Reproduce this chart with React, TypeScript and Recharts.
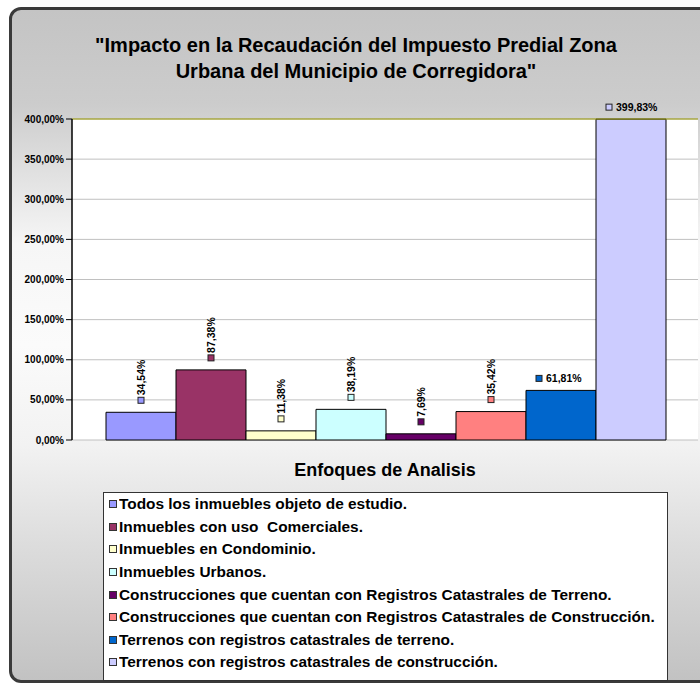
import React from "react";
import {
  BarChart,
  Bar,
  XAxis,
  YAxis,
  CartesianGrid,
  ReferenceLine,
  LabelList,
} from "recharts";

const FONT = '"Liberation Sans", Arial, sans-serif';

const titleLines = [
  "\"Impacto en la Recaudación del Impuesto Predial Zona",
  "Urbana del Municipio de Corregidora\"",
];
const xTitle = "Enfoques de Analisis";

const seriesNames = [
  "Todos los inmuebles objeto de estudio.",
  "Inmuebles con uso  Comerciales.",
  "Inmuebles en Condominio.",
  "Inmuebles Urbanos.",
  "Construcciones que cuentan con Registros Catastrales de Terreno.",
  "Construcciones que cuentan con Registros Catastrales de Construcción.",
  "Terrenos con registros catastrales de terreno.",
  "Terrenos con registros catastrales de construcción.",
];
const seriesValues = [34.54, 87.38, 11.38, 38.19, 7.69, 35.42, 61.81, 399.83];
const seriesColors = [
  "#9999ff",
  "#993366",
  "#ffffcc",
  "#ccffff",
  "#660066",
  "#ff8080",
  "#0066cc",
  "#ccccff",
];
// labels of the first six bars are written vertically
const labelRotated = [true, true, true, true, true, true, false, false];
const yTicks = [0, 50, 100, 150, 200, 250, 300, 350, 400];

const fmt = (v: number) => v.toFixed(2).replace(".", ",") + "%";

const row: Record<string, any> = { name: "Enfoques" };
seriesValues.forEach((v, i) => (row["s" + i] = v));
const data = [row];

function makeLabel(i: number) {
  return (props: any) => {
    const vb = props.viewBox || {};
    const x = props.x ?? vb.x;
    const y = props.y ?? vb.y;
    const w = props.width ?? vb.width;
    const cx = x + w / 2;
    const top = y;
    const sq = 6;
    const txt = fmt(Number(props.value));
    if (labelRotated[i]) {
      const ty = top - 17;
      return (
        <g>
          <rect x={cx - sq / 2} y={top - 12 - sq / 2} width={sq} height={sq} fill={seriesColors[i]} stroke="#222" strokeWidth={1} />
          <text
            x={cx}
            y={ty}
            transform={`rotate(-90, ${cx}, ${ty})`}
            textAnchor="start"
            dominantBaseline="central"
            fontFamily={FONT}
            fontWeight="bold"
            fontSize={10.5}
            fill="#000"
          >
            {txt}
          </text>
        </g>
      );
    }
    return (
      <g>
        <rect x={cx - 25} y={top - 12 - sq / 2} width={sq} height={sq} fill={seriesColors[i]} stroke="#222" strokeWidth={1} />
        <text
          x={cx - 15}
          y={top - 12}
          textAnchor="start"
          dominantBaseline="central"
          fontFamily={FONT}
          fontWeight="bold"
          fontSize={10.5}
          fill="#000"
        >
          {txt}
        </text>
      </g>
    );
  };
}

export default function App() {
  return (
    <div style={{ position: "absolute", left: 0, top: 0, width: 700, height: 684, overflow: "hidden", fontFamily: FONT, background: "#fff" }}>
      <div
        style={{
          position: "absolute",
          left: 9,
          top: 7,
          width: 720,
          height: 676,
          boxSizing: "border-box",
          border: "3px solid #3a3a3a",
          borderRadius: 12,
          background:
            "linear-gradient(to bottom, #c4c4c4 0%, #cccccc 14%, #f6f6f6 35%, #fbfbfb 50%, #f2f2f2 65%, #dcdcdc 80%, #c2c2c2 100%)",
        }}
      />
      <div
        style={{
          position: "absolute",
          left: 0,
          top: 32,
          width: 712,
          textAlign: "center",
          fontSize: 20,
          lineHeight: "26px",
          fontWeight: "bold",
          color: "#000",
        }}
      >
        {titleLines.map((t) => (
          <div key={t}>{t}</div>
        ))}
      </div>
      <div style={{ position: "absolute", left: 0, top: 0 }}>
        <BarChart
          width={700}
          height={684}
          data={data}
          margin={{ top: 119, right: 2, left: 10, bottom: 244 }}
          barCategoryGap={34}
          barGap={0}
        >
          <CartesianGrid vertical={false} stroke="#c0c0c0" fill="#ffffff" />
          <XAxis
            dataKey="name"
            height={0}
            tick={false}
            tickLine={false}
            axisLine={{ stroke: "#000", strokeWidth: 1.5 }}
          />
          <XAxis
            xAxisId="t"
            type="number"
            domain={[0, 1]}
            ticks={[0, 1]}
            height={0}
            tickFormatter={() => ""}
            tickSize={6}
            axisLine={false}
            tickLine={{ stroke: "#000" }}
          />
          <YAxis
            domain={[0, 400]}
            ticks={yTicks}
            interval={0}
            width={62}
            tickSize={6}
            tickMargin={2}
            tickFormatter={fmt}
            tick={{ fill: "#000", fontSize: 10, fontWeight: "bold", fontFamily: FONT }}
            axisLine={{ stroke: "#000", strokeWidth: 1.5 }}
            tickLine={{ stroke: "#000" }}
          />
          <YAxis
            yAxisId="r"
            orientation="right"
            domain={[0, 400]}
            width={0}
            tick={false}
            tickLine={false}
            axisLine={{ stroke: "#999900" }}
          />
          <ReferenceLine y={400} stroke="#999900" />
          {seriesNames.map((n, i) => (
            <Bar
              key={n}
              dataKey={"s" + i}
              name={n}
              fill={seriesColors[i]}
              stroke="#000"
              strokeWidth={1}
              isAnimationActive={false}
            >
              <LabelList dataKey={"s" + i} content={makeLabel(i)} />
            </Bar>
          ))}
        </BarChart>
      </div>
      <div
        style={{
          position: "absolute",
          left: 0,
          top: 460,
          width: 770,
          textAlign: "center",
          fontSize: 18,
          lineHeight: "20px",
          fontWeight: "bold",
          color: "#000",
        }}
      >
        {xTitle}
      </div>
      <div
        style={{
          position: "absolute",
          left: 103,
          top: 492,
          width: 565,
          height: 189,
          boxSizing: "border-box",
          border: "1px solid #333",
          background: "#fff",
          paddingLeft: 5,
        }}
      >
        {seriesNames.map((n, i) => (
          <div
            key={n}
            style={{
              height: 22.6,
              display: "flex",
              alignItems: "center",
              fontSize: 14,
              fontWeight: "bold",
              color: "#000",
              whiteSpace: "pre",
            }}
          >
            <span
              style={{
                display: "inline-block",
                width: 8,
                height: 8,
                boxSizing: "border-box",
                border: "1px solid #333",
                background: seriesColors[i],
                marginRight: 2,
              }}
            />
            <span style={{ display: "inline-block", transform: "scaleX(1.1)", transformOrigin: "left center" }}>{n}</span>
          </div>
        ))}
      </div>
    </div>
  );
}
